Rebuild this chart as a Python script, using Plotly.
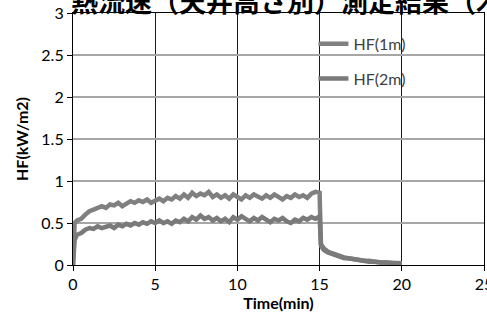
import plotly.graph_objects as go

# ---- data ----
time_min = [0.0, 0.1] + [0.25 * i for i in range(1, 61)] + [
    15.08, 15.25, 15.5, 15.75, 16.0, 16.25, 16.5, 16.75, 17.0, 17.25, 17.5,
    17.75, 18.0, 18.25, 18.5, 18.75, 19.0, 19.25, 19.5, 19.75, 20.0]

hf_1m = [0.0, 0.50,
         0.53, 0.55, 0.60, 0.64, 0.66, 0.68, 0.70, 0.68, 0.72, 0.71, 0.74, 0.70,
         0.73, 0.76, 0.74, 0.77, 0.75, 0.78, 0.74, 0.77, 0.79, 0.76, 0.80, 0.78,
         0.82, 0.79, 0.84, 0.80, 0.86, 0.82, 0.85, 0.83, 0.87, 0.81, 0.84, 0.80,
         0.83, 0.79, 0.84, 0.81, 0.78, 0.83, 0.80, 0.84, 0.81, 0.79, 0.83, 0.80,
         0.84, 0.81, 0.78, 0.82, 0.80, 0.84, 0.81, 0.83, 0.80, 0.85, 0.87, 0.86,
         0.25, 0.20, 0.16, 0.14, 0.12, 0.10, 0.09, 0.08, 0.07, 0.07, 0.06,
         0.05, 0.05, 0.04, 0.04, 0.03, 0.03, 0.03, 0.02, 0.02, 0.02]

hf_2m = [0.0, 0.30,
         0.36, 0.38, 0.42, 0.44, 0.43, 0.46, 0.44, 0.45, 0.47, 0.44, 0.48, 0.46,
         0.49, 0.47, 0.50, 0.48, 0.51, 0.49, 0.52, 0.50, 0.53, 0.50, 0.52, 0.49,
         0.53, 0.51, 0.55, 0.52, 0.57, 0.54, 0.59, 0.55, 0.57, 0.53, 0.56, 0.52,
         0.55, 0.51, 0.57, 0.54, 0.58, 0.55, 0.52, 0.56, 0.53, 0.57, 0.54, 0.51,
         0.55, 0.53, 0.56, 0.52, 0.50, 0.54, 0.52, 0.56, 0.54, 0.57, 0.55, 0.58,
         0.23, 0.18, 0.15, 0.13, 0.11, 0.10, 0.08, 0.08, 0.07, 0.06, 0.06,
         0.05, 0.04, 0.04, 0.03, 0.03, 0.03, 0.02, 0.02, 0.02, 0.02]

series_names = ["HF(1m)", "HF(2m)"]
title_text = "熱流速（天井高さ別）測定結果（木造住宅）"
x_ticks = [0, 5, 10, 15, 20, 25]
y_ticks = [0, 0.5, 1, 1.5, 2, 2.5, 3]

fig = go.Figure()
for name, vals, col, grp in [(series_names[0], hf_1m, "#808080", "a"),
                             (series_names[1], hf_2m, "#7a7a7a", "b")]:
    fig.add_trace(go.Scatter(x=time_min, y=vals, mode="lines", name=name,
                             legendgroup=grp,
                             line=dict(color=col, width=4.5)))

font_family = "Lato, Open Sans, sans-serif"
fig.update_layout(
    width=497, height=320,
    margin=dict(l=73, r=13, t=13, b=55),
    paper_bgcolor="white", plot_bgcolor="white",
    font=dict(family=font_family, size=16, color="#000000"),
    showlegend=True,
    legend=dict(x=0.585, y=0.945, xanchor="left", yanchor="top",
                bgcolor="rgba(0,0,0,0)", font=dict(size=16, color="#404040"),
                tracegroupgap=11, traceorder="grouped"),
    xaxis=dict(range=[0, 25], tickvals=x_ticks, showgrid=True, automargin=False,
               gridcolor="#1a1a1a", gridwidth=1, showline=True,
               linecolor="#000000", linewidth=1.2, mirror=True,
               ticks="outside", ticklen=5, tickcolor="#000000",
               zeroline=False,
               title=dict(text="<b>Time(min)</b>", font=dict(size=16), standoff=4)),
    yaxis=dict(range=[0, 3], tickvals=y_ticks, showgrid=True, automargin=False,
               gridcolor="#a6a6a6", gridwidth=1.5, showline=True,
               linecolor="#000000", linewidth=1.2, mirror=True,
               ticks="outside", ticklen=5, tickcolor="#000000",
               zeroline=False,
               title=dict(text="<b>HF(kW/m2)</b>", font=dict(size=16), standoff=8)),
    annotations=[dict(text="<b>" + title_text + "</b>", xref="paper", yref="paper",
                      x=-0.01, y=1, xanchor="left", yanchor="bottom", yshift=-9,
                      showarrow=False,
                      font=dict(family="Noto Sans CJK JP", size=27, color="#000000"))],
)

fig.write_html("out.html", config={"displayModeBar": False},
               post_script="document.body.style.margin='0';document.body.style.overflow='hidden';")
